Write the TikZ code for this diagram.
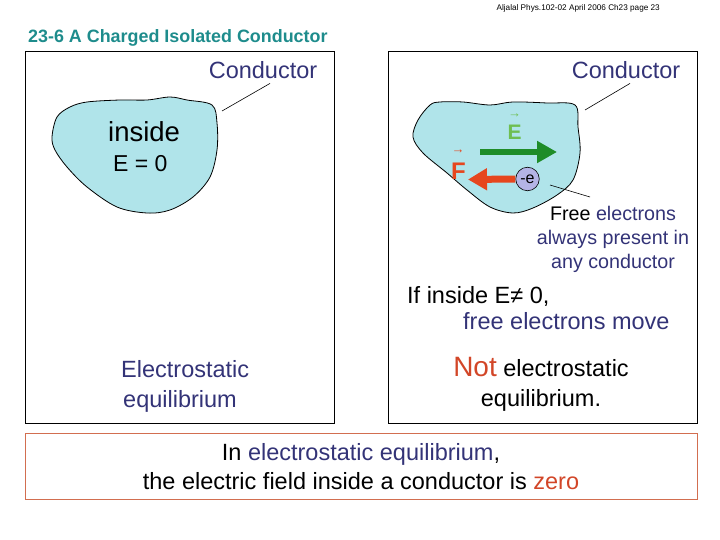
\documentclass[tikz,border=0pt]{standalone}
\usepackage{fontspec}
\setmainfont{Liberation Sans}
\usetikzlibrary{arrows.meta, positioning, calc}
\definecolor{titleteal}{RGB}{30,140,140}
\definecolor{navy}{RGB}{51,51,119}
\definecolor{blobcyan}{RGB}{176,228,234}
\definecolor{fieldgreen}{RGB}{30,140,40}
\definecolor{labelgreen}{RGB}{110,190,80}
\definecolor{forcered}{RGB}{230,70,30}
\definecolor{notred}{RGB}{210,70,40}
\definecolor{framered}{RGB}{210,110,80}
\definecolor{electronfill}{RGB}{180,180,230}
\newcommand{\txtsize}{\fontsize{23.5}{29}\selectfont}
\tikzset{
  panel/.style={draw, line width=1pt, minimum width=309pt, minimum height=371pt, inner sep=0pt},
  txt/.style={inner sep=0pt, font=\txtsize},
  leader/.style={draw, line width=0.6pt},
  blob/.style={draw, fill=blobcyan, line width=0.8pt},
  fieldarrow/.style={-{Triangle[length=20pt, width=21pt]}, line width=6.5pt, fieldgreen},
  forcearrow/.style={-{Triangle[length=19pt, width=21pt]}, line width=7pt, forcered},
  summary/.style={draw=framered, line width=0.8pt, minimum width=672pt, minimum height=66pt, inner sep=0pt},
  veclabel/.style={inner sep=0pt, font=\fontsize{21}{21}\selectfont\bfseries, anchor=base},
  vecarrow/.style={inner sep=0pt, font=\fontsize{13}{13}\selectfont}
}

\begin{document}
\begin{tikzpicture}[x=1pt, y=-1pt]
  \useasboundingbox (0,0) rectangle (720,540);
  \node[anchor=base east, inner sep=0pt, font=\fontsize{8.2}{10}\selectfont] (header) at (660,11) {Aljalal Phys.102-02 April 2006 Ch23 page 23};
  \node[anchor=base west, inner sep=0pt, font=\fontsize{17.9}{21}\selectfont\bfseries, text=titleteal] (title) at (28,42.5) {23-6 A Charged Isolated Conductor};

  \node[panel] (leftpanel) at (179.5,237.5) {};
  \node[panel] (rightpanel) at (542.5,237.5) {};
  \node[summary] (summary) at (361,466) {};

  \draw[blob] plot[smooth cycle, tension=0.55] coordinates {(70,107) (87,102) (120,100) (147,100) (170,97) (187,100) (212,105) (217,123) (217,150) (210,177) (193,197) (170,210) (147,213) (117,207) (87,187) (67,167) (55,150) (52,137) (57,117)};
  \node[txt, text=navy, anchor=base] (leftcond) at (263,79) {Conductor};
  \coordinate (leftedge) at (222,111);
  \draw[leader] ([xshift=7pt, yshift=-4pt]leftcond.south) -- (leftedge);
  \node[txt, font=\fontsize{27.5}{30}\selectfont, anchor=base west] (inside) at (108,142) {inside};
  \node[txt, font=\fontsize{23}{28}\selectfont, anchor=base west] (ezero) at (113,172) {E = 0};
  \node[txt, align=left, anchor=north west, text=navy, font=\fontsize{23.5}{30}\selectfont] (equil) at (121,360) {Electrostatic\\\hspace*{2pt}equilibrium};

  \draw[blob] plot[smooth cycle, tension=0.55] coordinates {(430,105) (440,102) (463,102) (490,105) (513,102) (547,103) (575,105) (578,127) (580,153) (573,180) (557,195) (533,208) (513,213) (490,207) (467,190) (447,173) (423,153) (413,137) (418,120)};
  \node[txt, text=navy, anchor=base] (rightcond) at (626,79) {Conductor};
  \coordinate (rightedge) at (585,110);
  \draw[leader] ([xshift=4pt, yshift=-4pt]rightcond.south) -- (rightedge);
  \coordinate (fieldtail) at (480,152);
  \coordinate (fieldtip) at (557,152);
  \draw[fieldarrow] (fieldtail) -- (fieldtip);
  \node[veclabel, text=labelgreen] (fieldlabel) at (514.5,140) {E};
  \node[vecarrow, text=labelgreen] (fieldvec) at (514.5,116) {→};
  \node[draw, circle, fill=electronfill, minimum size=23.5pt, inner sep=0pt, line width=0.6pt, font=\fontsize{16}{16}\selectfont] (electron) at (527.5,179) {-e};
  \coordinate (forcetip) at (468,179.5);
  \draw[forcearrow] (electron.west) -- (forcetip);
  \node[veclabel, text=forcered, font=\fontsize{24}{24}\selectfont\bfseries] (forcelabel) at (458.5,180) {F};
  \node[vecarrow, text=forcered] (forcevec) at (458,152) {→};
  \node[txt, font=\fontsize{19.7}{24}\selectfont, align=center, anchor=north, text=navy] (freetext) at (613,206) {{\color{black}Free} electrons\\always present in\\any conductor};
  \coordinate (electronlead) at (550,185);
  \draw[leader] (electronlead) -- ([xshift=-23pt, yshift=9pt]freetext.north);
  \node[txt, align=left, anchor=north west, font=\fontsize{23.5}{26}\selectfont] (movetext) at (407,286) {If inside E≠ 0,\\\hspace*{56pt}{\color{navy}free electrons move}};
  \node[txt, align=center, anchor=north, font=\fontsize{23.5}{30}\selectfont] (notequil) at (541,357) {{\color{notred}\fontsize{28}{30}\selectfont Not} electrostatic\\equilibrium.};

  \node[txt, align=center, anchor=north, font=\fontsize{23.5}{29}\selectfont] (summarytext) at (361,443) {In {\color{navy}electrostatic equilibrium},\\the electric field inside a conductor is {\color{notred}zero}};
\end{tikzpicture}
\end{document}
